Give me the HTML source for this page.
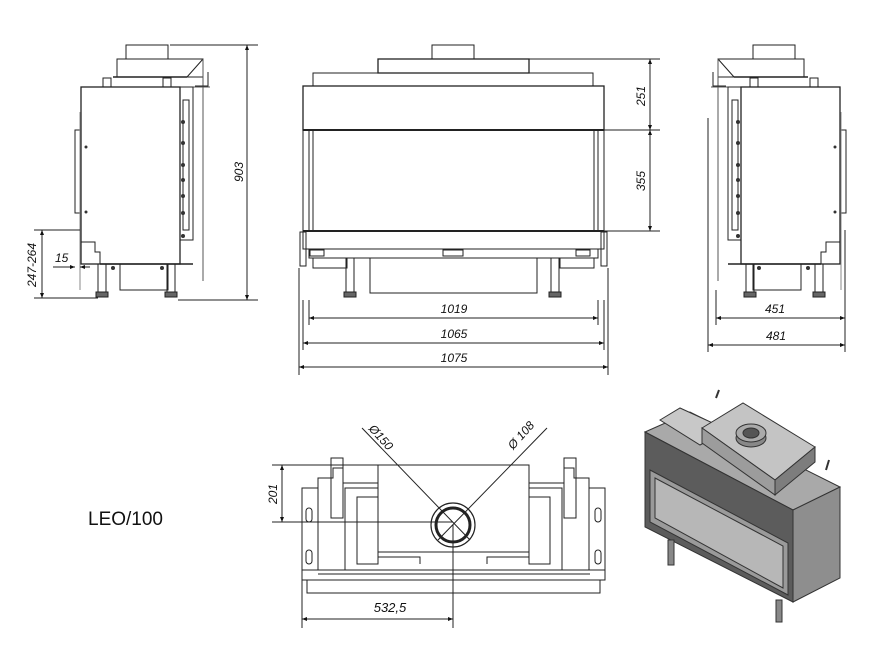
<!DOCTYPE html>
<html><head><meta charset="utf-8"><style>
html,body{margin:0;padding:0;background:#fff;width:880px;height:670px;overflow:hidden}
svg{display:block}
text{font-family:"Liberation Sans",Arial,sans-serif;font-size:12px;font-style:italic;fill:#111}
</style></head><body>
<svg width="880" height="670" viewBox="0 0 880 670" xmlns="http://www.w3.org/2000/svg">
<defs>
<marker id="a" viewBox="0 0 10 10" refX="10" refY="5" markerWidth="7" markerHeight="5" orient="auto-start-reverse"><path d="M0,1 L10,5 L0,9 z" fill="#111"/></marker>
<g id="side" fill="none" stroke="#222" stroke-width="1">
  <rect x="126" y="45" width="42" height="14"/>
  <rect x="117" y="59" width="86" height="18"/>
  <line x1="187" y1="77" x2="203" y2="59"/>
  <line x1="113" y1="77" x2="187" y2="77" stroke-width="1.5"/>
  <line x1="203" y1="59" x2="203" y2="281" stroke="#555"/>
  <line x1="190" y1="87" x2="210" y2="87" stroke="#555"/>
  <path d="M208,72 L208,86 L195,86" />
  <rect x="81" y="87" width="99" height="177" stroke-width="1.3"/>
  <rect x="180" y="87" width="13" height="153"/>
  <rect x="183" y="100" width="6" height="130"/>
  <line x1="180" y1="240" x2="193" y2="240"/>
  <rect x="75" y="130" width="6" height="83"/>
  <line x1="80" y1="112" x2="80" y2="290" stroke="#888"/>
  <path d="M81,242 L95,242 L95,252 L100,252 L100,264"/>
  <rect x="120" y="264" width="48" height="26"/>
  <rect x="98" y="264" width="8" height="28"/><rect x="167" y="264" width="8" height="28"/>
  <path d="M96,292 h12 v5 h-12z M165,292 h12 v5 h-12z" fill="#666"/>
  <line x1="100" y1="264" x2="193" y2="264" stroke-width="1.5"/>
  <g fill="#333" stroke="none"><circle cx="183" cy="122" r="2"/><circle cx="183" cy="143" r="2"/><circle cx="183" cy="165" r="2"/><circle cx="183" cy="180" r="2"/><circle cx="183" cy="196" r="2"/><circle cx="183" cy="213" r="2"/><circle cx="183" cy="236" r="2"/><circle cx="86" cy="147" r="1.5"/><circle cx="86" cy="212" r="1.5"/><circle cx="113" cy="268" r="2"/><circle cx="162" cy="268" r="2"/></g>
  <rect x="103" y="78" width="8" height="9"/><rect x="163" y="78" width="8" height="9"/>
</g>
</defs>

<!-- left side view -->
<use href="#side"/>
<g stroke="#222" fill="none">
<line x1="170" y1="45" x2="258" y2="45"/><line x1="178" y1="300" x2="258" y2="300"/>
<line x1="247" y1="45" x2="247" y2="300" marker-start="url(#a)" marker-end="url(#a)"/>
<line x1="34" y1="230" x2="80" y2="230"/><line x1="34" y1="298" x2="98" y2="298"/>
<line x1="42" y1="230" x2="42" y2="298" marker-start="url(#a)" marker-end="url(#a)"/>
<line x1="53" y1="267" x2="75" y2="267" marker-end="url(#a)"/><line x1="90" y1="267" x2="80" y2="267" marker-end="url(#a)"/>
</g>
<text transform="translate(243,172) rotate(-90)" text-anchor="middle">903</text>
<text transform="translate(36,265) rotate(-90)" text-anchor="middle">247-264</text>
<text x="55" y="262">15</text>

<!-- right side view -->
<use href="#side" transform="translate(921,0) scale(-1,1)"/>
<g stroke="#222" fill="none">
<line x1="716" y1="290" x2="716" y2="325"/><line x1="708" y1="118" x2="708" y2="352"/><line x1="845" y1="230" x2="845" y2="352"/>
<line x1="716" y1="318" x2="845" y2="318" marker-start="url(#a)" marker-end="url(#a)"/>
<line x1="708" y1="345" x2="845" y2="345" marker-start="url(#a)" marker-end="url(#a)"/>
</g>
<text x="775" y="313" text-anchor="middle">451</text>
<text x="776" y="340" text-anchor="middle">481</text>

<!-- front view -->
<g stroke="#222" fill="none">
<rect x="432" y="45" width="42" height="14"/>
<rect x="378" y="59" width="151" height="14" stroke-width="1.3"/>
<rect x="313" y="73" width="280" height="13"/>
<rect x="303" y="86" width="301" height="44" stroke-width="1.3"/>
<rect x="303" y="130" width="301" height="101"/>
<line x1="309" y1="130" x2="309" y2="231"/><line x1="313" y1="130" x2="313" y2="231"/>
<line x1="598" y1="130" x2="598" y2="231"/><line x1="594" y1="130" x2="594" y2="231"/>
<line x1="303" y1="130" x2="604" y2="130" stroke-width="2"/>
<line x1="303" y1="231" x2="604" y2="231" stroke-width="2"/>
<rect x="303" y="231" width="301" height="18"/>
<rect x="309" y="249" width="289" height="9"/>
<rect x="310" y="250" width="14" height="6"/><rect x="443" y="250" width="20" height="6"/><rect x="576" y="250" width="14" height="6"/>
<rect x="370" y="258" width="167" height="35"/>
<rect x="346" y="258" width="8" height="34"/><rect x="551" y="258" width="8" height="34"/>
<path d="M344,292 h12 v5 h-12z M549,292 h12 v5 h-12z" fill="#666"/>
<path d="M313,258 v10 h34 v-10 M594,258 v10 h-34 v-10"/>
<rect x="300" y="232" width="6" height="34"/><rect x="601" y="232" width="6" height="34"/>
<line x1="299" y1="268" x2="299" y2="375"/><line x1="608" y1="268" x2="608" y2="375"/>
<line x1="303" y1="300" x2="303" y2="350"/><line x1="604" y1="300" x2="604" y2="350"/>
<line x1="309" y1="300" x2="309" y2="325"/><line x1="598" y1="300" x2="598" y2="325"/>
<line x1="309" y1="318" x2="598" y2="318" marker-start="url(#a)" marker-end="url(#a)"/>
<line x1="303" y1="343" x2="604" y2="343" marker-start="url(#a)" marker-end="url(#a)"/>
<line x1="299" y1="367" x2="608" y2="367" marker-start="url(#a)" marker-end="url(#a)"/>
<line x1="529" y1="59" x2="660" y2="59"/>
<line x1="604" y1="130" x2="660" y2="130"/><line x1="604" y1="231" x2="660" y2="231"/>
<line x1="650" y1="59" x2="650" y2="130" marker-start="url(#a)" marker-end="url(#a)"/>
<line x1="650" y1="130" x2="650" y2="231" marker-start="url(#a)" marker-end="url(#a)"/>
</g>
<text x="454" y="313" text-anchor="middle">1019</text>
<text x="454" y="338" text-anchor="middle">1065</text>
<text x="454" y="362" text-anchor="middle">1075</text>
<text transform="translate(645,96) rotate(-90)" text-anchor="middle">251</text>
<text transform="translate(645,181) rotate(-90)" text-anchor="middle">355</text>

<!-- bottom view -->
<g stroke="#222" fill="none">
<rect x="378" y="465" width="151" height="87"/>
<rect x="302" y="488" width="16" height="82"/><rect x="589" y="488" width="16" height="82"/>
<path d="M318,488 v-10 h15 v-10 h10 v15 h35 M589,488 v-10 h-15 v-10 h-10 v15 h-35"/>
<rect x="331" y="458" width="12" height="60"/><rect x="564" y="458" width="12" height="60"/>
<path d="M345,570 V488 h33 M562,570 V488 h-33"/>
<rect x="357" y="497" width="21" height="67"/><rect x="529" y="497" width="21" height="67"/>
<path d="M378,552 V557 h42 V564 M529,552 V557 h-42 V564"/>
<rect x="302" y="570" width="303" height="10"/>
<line x1="318" y1="574" x2="590" y2="574"/>
<rect x="307" y="580" width="293" height="13"/>
<rect x="306" y="508" width="6" height="14" rx="3"/><rect x="306" y="550" width="6" height="14" rx="3"/>
<rect x="595" y="508" width="6" height="14" rx="3"/><rect x="595" y="550" width="6" height="14" rx="3"/>
<circle cx="453" cy="525" r="22" stroke-width="1.2"/>
<circle cx="453" cy="525" r="17" stroke-width="3"/>
<line x1="362" y1="428" x2="470" y2="540"/>
<line x1="547" y1="428" x2="438" y2="540"/>
<line x1="272" y1="465" x2="378" y2="465"/><line x1="272" y1="522" x2="453" y2="522"/>
<line x1="282" y1="465" x2="282" y2="522" marker-start="url(#a)" marker-end="url(#a)"/>
<line x1="453" y1="525" x2="453" y2="628"/><line x1="302" y1="575" x2="302" y2="628"/>
<line x1="302" y1="619" x2="453" y2="619" marker-start="url(#a)" marker-end="url(#a)"/>
</g>
<text transform="translate(378,440) rotate(48)" text-anchor="middle">Ø150</text>
<text transform="translate(524,438) rotate(-48)" text-anchor="middle">Ø 108</text>
<text transform="translate(277,494) rotate(-90)" text-anchor="middle">201</text>
<text x="390" y="612" text-anchor="middle" style="font-size:13px">532,5</text>

<text x="88" y="525" style="font-style:normal;font-size:19px">LEO/100</text>

<!-- isometric -->
<g stroke="#333" stroke-width="1">
<polygon points="645,432 690,412 840,487 793,510" fill="#a9a9a9"/>
<polygon points="793,510 840,487 840,578 793,602" fill="#8e8e8e"/>
<polygon points="645,432 793,510 793,602 645,527" fill="#5c5c5c"/>
<polygon points="650,470 788,543 788,595 650,522" fill="#9a9a9a"/>
<polygon points="655,478 783,546 783,588 655,518" fill="#b7b7b7"/>
<polygon points="660,420 680,408 728,430 700,445" fill="#c8c8c8"/>
<polygon points="702,428 743,403 815,447 775,480" fill="#c4c4c4"/>
<polygon points="702,428 775,480 775,495 702,443" fill="#9c9c9c"/>
<polygon points="775,480 815,447 815,462 775,495" fill="#7d7d7d"/>
<ellipse cx="751" cy="438" rx="15" ry="9" fill="#888"/>
<ellipse cx="751" cy="433" rx="15" ry="9" fill="#aaa"/>
<ellipse cx="751" cy="433" rx="8" ry="5" fill="#555"/>
<rect x="668" y="540" width="6" height="25" fill="#888"/><rect x="776" y="600" width="6" height="22" fill="#888"/>
<path d="M716,398 l3,-8 M826,470 l3,-10" stroke-width="2"/>
</g>
</svg>
</body></html>
